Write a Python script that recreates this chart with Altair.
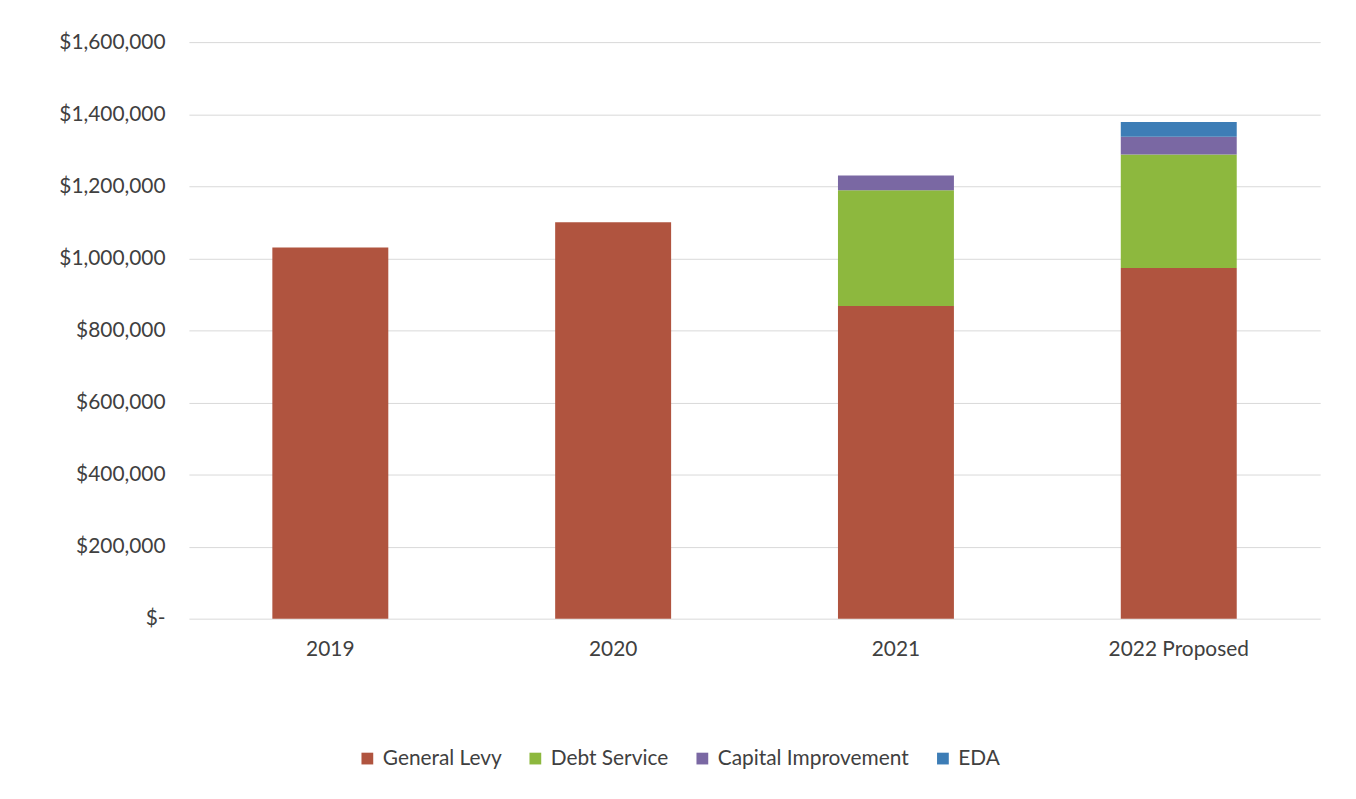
import altair as alt
import pandas as pd

years = ["2019", "2020", "2021", "2022 Proposed"]
series = ["General Levy", "Debt Service", "Capital Improvement", "EDA"]
general_levy = [1030000, 1100000, 868000, 973000]
debt_service = [0, 0, 321000, 315000]
capital_improvement = [0, 0, 41000, 49000]
eda = [0, 0, 0, 41000]
colors = ["#B0543F", "#8DB83E", "#7A68A3", "#3D7DB6"]

values = [general_levy, debt_service, capital_improvement, eda]
rows = []
for si, (s, vals) in enumerate(zip(series, values)):
    for y, v in zip(years, vals):
        rows.append({"year": y, "series": s, "value": v, "idx": si})
df = pd.DataFrame(rows)

FONT = "Lato"

chart = alt.Chart(df).mark_bar().encode(
    x=alt.X("year:N", sort=years, title=None,
            scale=alt.Scale(paddingInner=0.59, paddingOuter=0.295),
            axis=alt.Axis(labelAngle=0, labelFontSize=21, labelColor="#404040",
                          labelFont=FONT, ticks=False, domain=False, labelPadding=20)),
    y=alt.Y("value:Q", stack="zero", title=None,
            scale=alt.Scale(domain=[0, 1600000], nice=False),
            axis=alt.Axis(values=list(range(0, 1600001, 200000)),
                          labelExpr="datum.value == 0 ? '$-' : '$' + format(datum.value, ',.0f')",
                          labelFontSize=21, labelColor="#404040", labelFont=FONT,
                          ticks=False, domain=False, labelPadding=24,
                          grid=True, gridColor="#d9d9d9", gridWidth=1)),
    color=alt.Color("series:N", sort=series,
                    scale=alt.Scale(domain=series, range=colors),
                    legend=alt.Legend(title=None, orient="none", direction="horizontal",
                                      legendX=169, legendY=710,
                                      symbolType="square", symbolSize=140,
                                      symbolStrokeWidth=0, labelLimit=400,
                                      labelFontSize=21, labelFont=FONT, labelColor="#404040",
                                      columnPadding=23, labelOffset=5)),
    order=alt.Order("idx:Q", sort="ascending"),
).properties(
    width=1138, height=580,
    autosize=alt.AutoSizeParams(type="none"),
    padding={"left": 182, "top": 32, "right": 28, "bottom": 160},
    background="white",
).configure_view(stroke=None, strokeWidth=0)

chart.save("out.html", embed_options={"renderer": "svg", "actions": False})
